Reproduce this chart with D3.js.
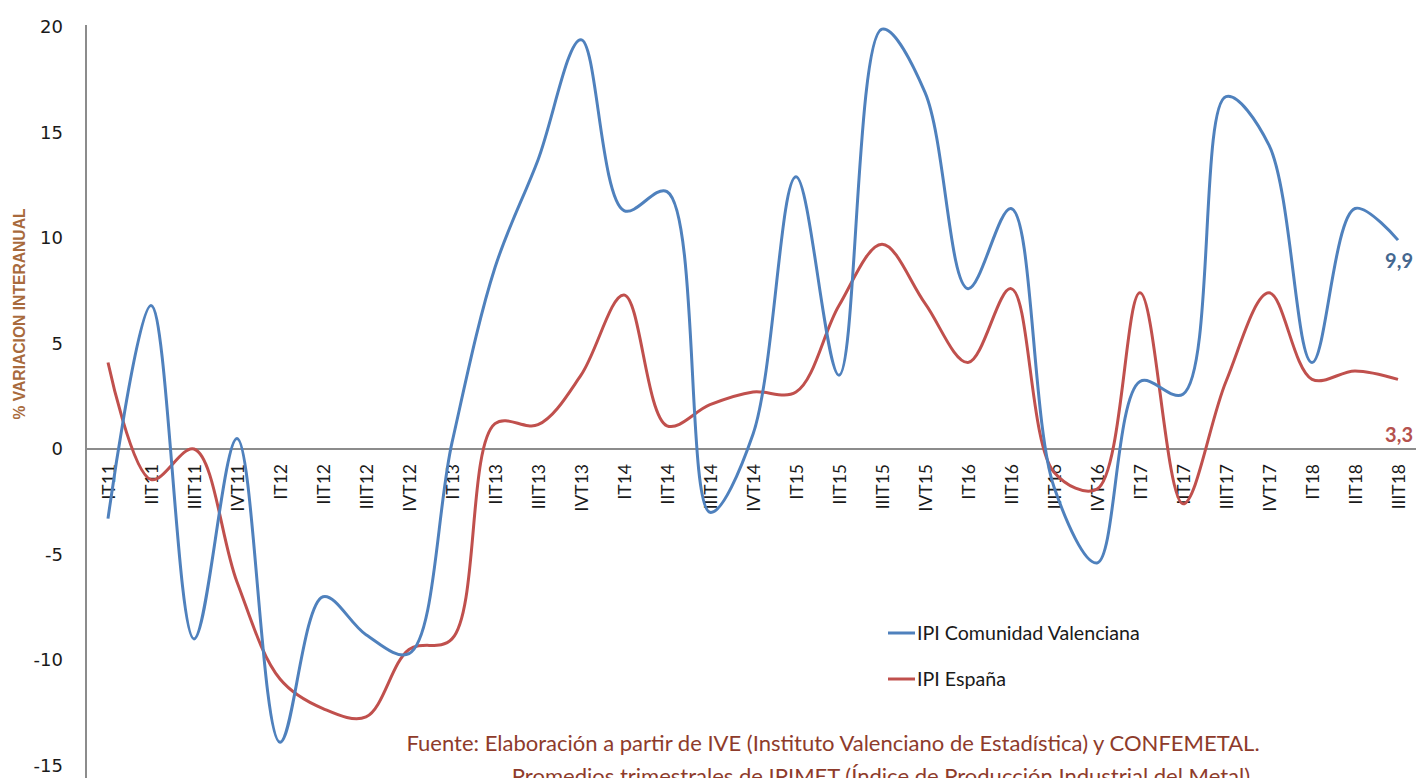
<!DOCTYPE html>
<html lang="es">
<head>
<meta charset="UTF-8">
<title>IPI Comunidad Valenciana vs IPI España</title>
<script src="https://cdn.jsdelivr.net/npm/d3@7"></script>
<style>
  body { margin: 0; background: #fff; overflow: hidden; }
  svg { display: block; }
</style>
</head>
<body>
<div id="chart"></div>
<script>
// trimestres
const quarters = ['IT11','IIT11','IIIT11','IVT11','IT12','IIT12','IIIT12','IVT12',
  'IT13','IIT13','IIIT13','IVT13','IT14','IIT14','IIIT14','IVT14',
  'IT15','IIT15','IIIT15','IVT15','IT16','IIT16','IIIT16','IVT16',
  'IT17','IIT17','IIIT17','IVT17','IT18','IIT18','IIIT18'];

const ipiValenciana = [-3.3, 6.8, -9.0, 0.5, -13.9, -7.0, -8.8, -9.7,
  0.3, 8.6, 13.7, 19.4, 11.3, 12.2, -3.0, 0.7,
  12.9, 3.5, 19.9, 16.9, 7.6, 11.4, -1.8, -5.4,
  3.2, 2.6, 16.7, 14.4, 4.1, 11.4, 9.9];

const ipiEspana = [4.1, -1.45, 0.0, -6.3, -10.9, -12.3, -12.7, -9.5,
  -9.0, 1.2, 1.15, 3.5, 7.3, 1.1, 2.1, 2.7,
  2.7, 6.8, 9.7, 6.9, 4.1, 7.6, -1.1, -1.9,
  7.4, -2.6, 3.2, 7.4, 3.3, 3.7, 3.3];

const yTicks = [-15, -10, -5, 0, 5, 10, 15, 20];

const W = 1416, H = 778;
const blue = '#4f81bd', red = '#c0504d';
const sans = 'Lato, "Open Sans", sans-serif';

const svg = d3.select('#chart').append('svg')
  .attr('width', W).attr('height', H);

const x = d3.scalePoint().domain(quarters).range([108, 1398]);
const y = d3.scaleLinear().domain([-15, 20]).range([765.5, 27]);

// ajusta el tamaño de letra para ocupar un ancho dado
function fitWidth(sel, target) {
  const w = sel.node().getComputedTextLength();
  const fs = parseFloat(sel.style('font-size'));
  sel.style('font-size', (fs * target / w) + 'px');
  return fs * target / w;
}

// eje vertical
svg.append('line')
  .attr('x1', 86).attr('x2', 86)
  .attr('y1', y(20) - 2).attr('y2', H)
  .attr('stroke', '#8c8c8c').attr('stroke-width', 2);

// eje horizontal en 0
svg.append('line')
  .attr('x1', 86).attr('x2', W)
  .attr('y1', y(0)).attr('y2', y(0))
  .attr('stroke', '#8c8c8c').attr('stroke-width', 2);

svg.selectAll('text.ytick')
  .data(yTicks)
  .enter().append('text')
  .attr('class', 'ytick')
  .attr('x', 63)
  .attr('y', d => y(d))
  .attr('dy', '0.36em')
  .attr('text-anchor', 'end')
  .style('font-family', '"DejaVu Sans", Verdana, sans-serif')
  .style('font-size', '18px')
  .style('fill', '#1a1a1a')
  .text(d => d);

svg.append('text')
  .attr('transform', 'translate(24.5,314) rotate(-90)')
  .attr('text-anchor', 'middle')
  .attr('textLength', 211)
  .attr('lengthAdjust', 'spacingAndGlyphs')
  .style('font-family', '"Liberation Sans Narrow", "Liberation Sans", Arial, sans-serif')
  .style('font-weight', 'bold')
  .style('font-size', '16.5px')
  .style('fill', '#a86a3c')
  .text('% VARIACION INTERANUAL');

// etiquetas de trimestre
svg.selectAll('text.xtick')
  .data(quarters)
  .enter().append('text')
  .attr('class', 'xtick')
  .attr('transform', d => `translate(${x(d) + 6.5},${y(0) + 15}) rotate(-90)`)
  .attr('text-anchor', 'end')
  .style('font-family', sans)
  .style('font-size', '17.5px')
  .style('fill', '#1a1a1a')
  .text(d => d);

const line = d3.line()
  .x((d, i) => x(quarters[i]))
  .y(d => y(d))
  .curve(d3.curveCatmullRom.alpha(0.5));

svg.append('path')
  .datum(ipiEspana)
  .attr('fill', 'none')
  .attr('stroke', red)
  .attr('stroke-width', 3)
  .attr('d', line);

svg.append('path')
  .datum(ipiValenciana)
  .attr('fill', 'none')
  .attr('stroke', blue)
  .attr('stroke-width', 3)
  .attr('d', line);

// ultimos valores
const last = quarters.length - 1;
svg.append('text')
  .attr('x', x(quarters[last]) + 15)
  .attr('y', y(ipiValenciana[last]) + 28)
  .attr('text-anchor', 'end')
  .style('font-family', sans)
  .style('font-weight', 'bold')
  .style('font-size', '20px')
  .style('fill', '#44678f')
  .text('9,9');

svg.append('text')
  .attr('x', x(quarters[last]) + 15)
  .attr('y', y(ipiEspana[last]) + 63)
  .attr('text-anchor', 'end')
  .style('font-family', sans)
  .style('font-weight', 'bold')
  .style('font-size', '20px')
  .style('fill', '#b5524e')
  .text('3,3');

// leyenda
const legend = [
  { name: 'IPI Comunidad Valenciana', color: blue, y: 633 },
  { name: 'IPI España', color: red, y: 679 }
];
const lg = svg.selectAll('g.legend')
  .data(legend)
  .enter().append('g')
  .attr('class', 'legend')
  .attr('transform', d => `translate(888,${d.y})`);
lg.append('line')
  .attr('x1', 0).attr('x2', 27)
  .attr('stroke', d => d.color)
  .attr('stroke-width', 3);
const lgText = lg.append('text')
  .attr('x', 29)
  .attr('dy', '0.35em')
  .style('font-family', sans)
  .style('font-size', '18px')
  .style('fill', '#1a1a1a')
  .text(d => d.name);
const legendSize = fitWidth(d3.select(lgText.nodes()[0]), 223);
lgText.style('font-size', legendSize + 'px');

// fuente
const sourceLines = [
  'Fuente: Elaboración a partir de IVE (Instituto Valenciano de Estadística) y CONFEMETAL.',
  'Promedios trimestrales de IPIMET (Índice de Producción Industrial del Metal)'
];
const src = svg.selectAll('text.source')
  .data(sourceLines)
  .enter().append('text')
  .attr('class', 'source')
  .attr('x', (d, i) => i === 0 ? 833 : 881)
  .attr('y', (d, i) => 751 + i * 33)
  .attr('text-anchor', 'middle')
  .style('font-family', sans)
  .style('font-size', '20px')
  .style('fill', '#8e3b2b')
  .text(d => d);
const srcSize = fitWidth(d3.select(src.nodes()[0]), 854);
src.style('font-size', srcSize + 'px');
</script>
</body>
</html>
